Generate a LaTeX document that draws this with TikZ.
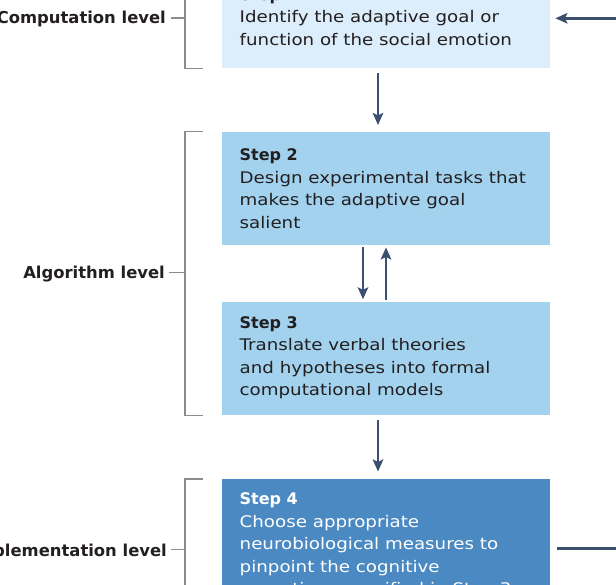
\documentclass[tikz,border=0pt]{standalone}
\usepackage{fontspec}
\setmainfont{DejaVu Sans}
\newfontfamily\bodyf{DejaVu Sans}[FakeStretch=1.14]
\newfontfamily\headf{DejaVu Sans}
\usetikzlibrary{arrows.meta,calc}
\definecolor{inkc}{HTML}{231F20}
\definecolor{fillA}{HTML}{DCEEFB}
\definecolor{fillB}{HTML}{A3D2EF}
\definecolor{fillC}{HTML}{4A89C2}
\definecolor{arrc}{HTML}{3B4F6F}
\definecolor{brkc}{HTML}{8C8C8C}
\tikzset{
  stepbox/.style={rectangle, draw=none, inner sep=0pt, anchor=north west, minimum width=328pt},
  steptext/.style={anchor=base west, inner sep=0pt, text=inkc},
  lbl/.style={anchor=base east, inner sep=0pt, text=inkc, font=\headf\bfseries\fontsize{16.4}{20}\selectfont},
  conn/.style={draw=arrc, line width=2.7pt, -{Stealth[length=12pt,width=10.5pt,inset=2.5pt]}},
  plainconn/.style={draw=arrc, line width=2.7pt},
  brk/.style={draw=brkc, line width=1.1pt}
}
\newcommand{\stxt}[2]{\parbox[t]{310pt}{\raggedright\fontsize{16}{22.5}\selectfont{\headf\bfseries #1}\\\bodyf #2}}
\begin{document}
\begin{tikzpicture}[x=1pt,y=-1pt]
\useasboundingbox (0,0) rectangle (616,585);
\clip (0,0) rectangle (616,585);
% boxes
\node[stepbox, fill=fillA, minimum height=98pt] (s1) at (222,-30) {};
\node[stepbox, fill=fillB, minimum height=113pt] (s2) at (222,131.5) {};
\node[stepbox, fill=fillB, minimum height=112.4pt] (s3) at (222,302.3) {};
\node[stepbox, fill=fillC, minimum height=161pt] (s4) at (222,479) {};
% texts
\node[steptext] (t1) at (239.5,0.5) {\stxt{Step 1}{Identify the adaptive goal or\\function of the social emotion}};
\node[steptext] (t2) at (239.5,160.7) {\stxt{Step 2}{Design experimental tasks that\\makes the adaptive goal\\salient}};
\node[steptext] (t3) at (239.5,328.3) {\stxt{Step 3}{Translate verbal theories\\and hypotheses into formal\\computational models}};
\node[steptext, text=white] (t4) at (239.5,504.5) {\stxt{Step 4}{Choose appropriate\\neurobiological measures to\\pinpoint the cognitive\\operations specified in Step 3}};
% level labels
\node[lbl] (l1) at (166,24) {Computation level};
\node[lbl] (l2) at (165,279) {Algorithm level};
\node[lbl] (l3) at (167,556) {Implementation level};
% brackets
\draw[brk] ([xshift=-19pt]s1.north west) -- ++(-18,0) |- ([xshift=-19pt]s1.south west);
\draw[brk] ([xshift=-19pt]s2.north west) -- ++(-18,0) |- ([xshift=-19pt]s3.south west);
\draw[brk] ([xshift=-19pt]s4.north west) -- ++(-18,0) |- ([xshift=-19pt]s4.south west);
\coordinate (k1) at (185,18);
\coordinate (k2) at (185,272.7);
\coordinate (k3) at (185,549.5);
\draw[brk] ([xshift=5pt]l1.east |- k1) -- (k1);
\draw[brk] ([xshift=4pt]l2.east |- k2) -- (k2);
\draw[brk] ([xshift=4pt]l3.east |- k3) -- (k3);
% vertical connectors
\draw[conn] ($(s1.south west)+(156,5)$) -- ($(s2.north west)+(156,-6.5)$);
\draw[conn] ($(s2.south west)+(141,2.5)$) -- ($(s3.north west)+(141,-3)$);
\draw[conn] ($(s3.north west)+(164,-2.5)$) -- ($(s2.south west)+(164,2.5)$);
\draw[conn] ($(s3.south west)+(156,4.5)$) -- ($(s4.north west)+(156,-7.5)$);
% side connectors
\coordinate (in1) at (620,18.3);
\coordinate (out4) at (620,548.7);
\draw[conn] (in1) -- ($(s1.north east)+(5,48.3)$);
\draw[plainconn] ($(s4.north east)+(6.7,69.7)$) -- (out4);
\end{tikzpicture}
\end{document}
